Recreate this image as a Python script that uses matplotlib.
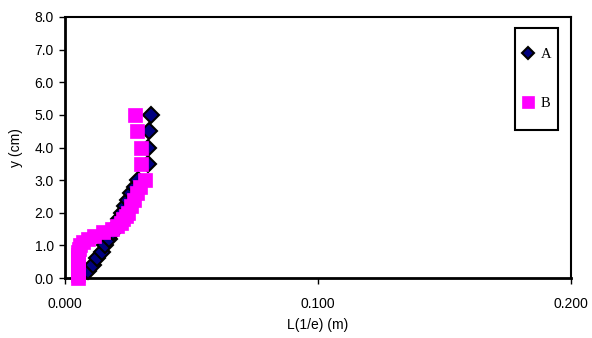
import matplotlib
matplotlib.use("Agg")
import numpy as np
import matplotlib.pyplot as plt
from matplotlib.patches import Rectangle

# series A: depth (cm) vs L(1/e) (m)
y_a = [0.2, 0.4, 0.6, 0.8, 1.0, 1.2, 1.4, 1.6, 1.8, 2.0, 2.2, 2.4, 2.6, 2.8, 3.0,
       3.5, 4.0, 4.5, 5.0]
l_a = [0.0090, 0.0110, 0.0128, 0.0145, 0.0160, 0.0175, 0.0188, 0.0200, 0.0213,
       0.0226, 0.0238, 0.0250, 0.0262, 0.0275, 0.0290,
       0.0328, 0.0328, 0.0333, 0.0339]

# series B
y_b = [0.0, 0.1, 0.2, 0.3, 0.4, 0.5, 0.6, 0.7, 0.8, 0.9, 1.0, 1.1, 1.2, 1.3, 1.4,
       1.5, 1.6, 1.7, 1.8, 1.9, 2.0, 2.2, 2.4, 2.6, 2.8, 3.0, 3.5, 4.0, 4.5, 5.0]
l_b = [0.0052, 0.0051, 0.0050, 0.0050, 0.0050, 0.0050, 0.0050, 0.0051, 0.0052,
       0.0054, 0.0060, 0.0072, 0.0090, 0.0115, 0.0150, 0.0185, 0.0205, 0.0220,
       0.0230, 0.0240, 0.0248, 0.0260, 0.0273, 0.0285, 0.0296, 0.0316,
       0.0302, 0.0302, 0.0283, 0.0275]

x_ticks = [0.0, 0.1, 0.2]
y_ticks = np.arange(0, 8.01, 1.0)

plt.rcParams['font.family'] = ['Liberation Sans', 'DejaVu Sans']
fs = 10

fig = plt.figure(figsize=(5.92, 3.38), dpi=100)
ax = fig.add_axes([65/592., 60/338., 506/592., 261/338.])

ax.plot(l_a, y_a, linestyle='none', marker='D', markersize=8,
        markerfacecolor='#000080', markeredgecolor='black', markeredgewidth=1.5,
        label='A', clip_on=False, zorder=3)
ax.plot(l_b, y_b, linestyle='none', marker='s', markersize=10.5,
        markerfacecolor='#ff00ff', markeredgecolor='#ff00ff', markeredgewidth=0.5,
        label='B', clip_on=False, zorder=4)

ax.set_xlim(0, 0.2)
ax.set_ylim(0, 8)
ax.set_xticks(x_ticks)
ax.set_xticklabels(['%.3f' % v for v in x_ticks])
ax.set_yticks(y_ticks)
ax.set_yticklabels(['%.1f' % v for v in y_ticks])
ax.tick_params(direction='out', length=4, width=1, labelsize=fs, colors='black')
ax.tick_params(axis='x', pad=10)
ax.tick_params(axis='y', pad=4)

for side in ['left', 'bottom']:
    ax.spines[side].set_linewidth(2)
for side in ['top', 'right']:
    ax.spines[side].set_linewidth(1.5)

ax.set_xlabel('L(1/e) (m)', fontsize=fs, labelpad=5)
ax.set_ylabel('y (cm)', fontsize=fs, labelpad=8)

# legend entries without frame, tall narrow box drawn around them
leg = ax.legend(loc='upper left', bbox_to_anchor=(0.908, 0.881),
                frameon=False, labelspacing=2.45,
                handlelength=0.5, handletextpad=0.6,
                borderpad=0, borderaxespad=0, markerscale=0.8,
                prop={'family': 'Liberation Serif', 'size': 10.5})
ax.add_patch(Rectangle((0.8893, 0.567), 0.085, 0.391, transform=ax.transAxes,
                       facecolor='none', edgecolor='black', linewidth=1.5,
                       clip_on=False, zorder=5))

fig.savefig('out.png', dpi=100)
